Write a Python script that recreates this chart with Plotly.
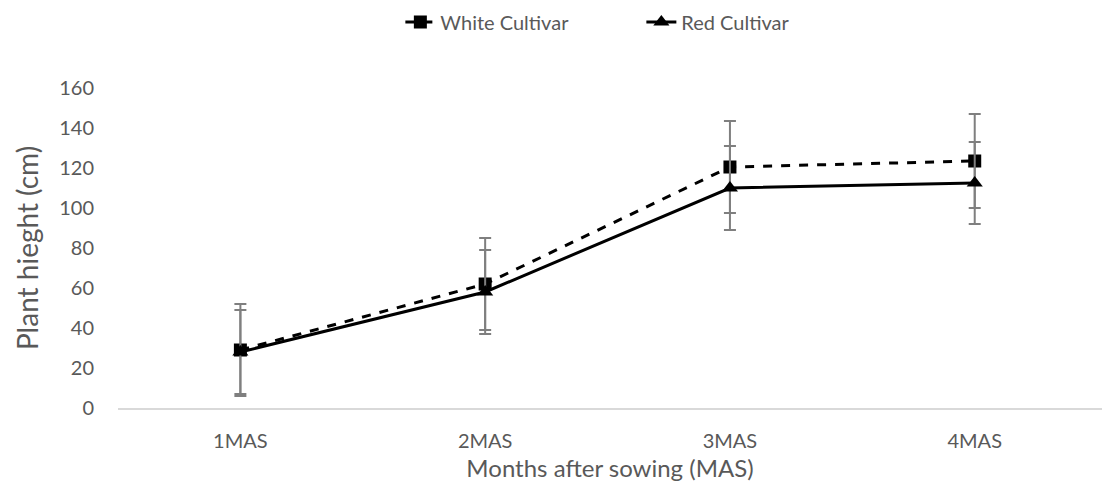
import plotly.graph_objects as go

categories = ["1MAS", "2MAS", "3MAS", "4MAS"]
white_values = [29, 62, 120.5, 123.5]
white_err = [23, 23, 23, 23.5]
red_values = [28, 58, 110, 112.5]
red_err = [21, 21, 21, 20.5]

font_family = "Lato, 'Open Sans', sans-serif"
tick_color = "#595959"
err_color = "#7f7f7f"

fig = go.Figure()
fig.add_trace(go.Scatter(
    x=categories, y=white_values, name="White Cultivar",
    mode="lines+markers",
    line=dict(color="black", width=3, dash="dash"),
    marker=dict(symbol="square", size=13, color="black"),
    error_y=dict(type="data", array=white_err, visible=True,
                 color=err_color, thickness=2, width=6),
))
fig.add_trace(go.Scatter(
    x=categories, y=red_values, name="Red Cultivar",
    mode="lines+markers",
    line=dict(color="black", width=3),
    marker=dict(symbol="triangle-up", size=14, color="black"),
    error_y=dict(type="data", array=red_err, visible=True,
                 color=err_color, thickness=2, width=6),
))

fig.update_layout(
    width=1102, height=495,
    paper_bgcolor="white", plot_bgcolor="white",
    margin=dict(l=118, r=0, t=88, b=87),
    font=dict(family=font_family, color=tick_color),
    showlegend=True,
    legend=dict(orientation="h", x=0.582, xanchor="center", xref="container",
                y=0.995, yref="container", yanchor="top",
                font=dict(size=20, color=tick_color),
                entrywidth=196, traceorder="normal"),
    xaxis=dict(
        type="category", range=[-0.5, 3.52],
        showgrid=False, showline=True, linecolor="#d9d9d9", linewidth=2,
        ticks="", tickfont=dict(size=20, color=tick_color), ticklabelstandoff=14,
        title=dict(text="Months after sowing (MAS)",
                   font=dict(size=24, color=tick_color), standoff=9),
        zeroline=False,
    ),
    yaxis=dict(
        range=[0, 160], tickvals=[0, 20, 40, 60, 80, 100, 120, 140, 160],
        showgrid=False, showline=False, zeroline=False,
        ticks="", tickfont=dict(size=20, color=tick_color), ticklabelstandoff=23,
        title=dict(text="Plant hieght (cm)",
                   font=dict(size=28, color=tick_color), standoff=12),
    ),
)

fig.write_html("out.html")
